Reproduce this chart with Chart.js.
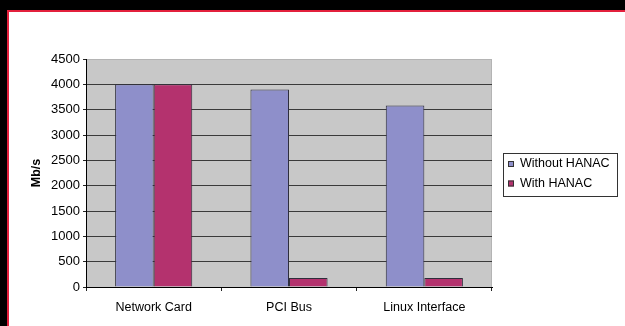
<!DOCTYPE html>
<html>
<head>
<meta charset="utf-8">
<script src="https://cdn.jsdelivr.net/npm/chart.js@4.4.1/dist/chart.umd.min.js"></script>
<style>
  html, body { margin: 0; padding: 0; background: #fff; overflow: hidden; }
  .band { position: absolute; }
  #topBlack { left: 0; top: 0; width: 625px; height: 10px; background: #000; }
  #leftBlack { left: 0; top: 0; width: 7px; height: 326px; background: #000; }
  #topRed { left: 7px; top: 10px; width: 618px; height: 2px; background: #e3203c; }
  #leftRed { left: 7px; top: 10px; width: 2px; height: 316px; background: #e3203c; }
  #myChart { position: absolute; left: 9px; top: 12px; }
</style>
</head>
<body>
<div class="band" id="topBlack"></div>
<div class="band" id="leftBlack"></div>
<div class="band" id="topRed"></div>
<div class="band" id="leftRed"></div>
<canvas id="myChart" width="616" height="314"></canvas>
<script>
const categories = ['Network Card', 'PCI Bus', 'Linux Interface'];
const withoutHanac = [4000, 3900, 3580];
const withHanac = [4000, 180, 180];
const seriesNames = ['Without HANAC', 'With HANAC'];
const yMin = 0, yMax = 4500, yStep = 500;

const FONT = '"Liberation Sans", Arial, sans-serif';

// grey plot area behind the bars
const plotBackground = {
    id: 'plotBackground',
    beforeDraw(chart) {
        const a = chart.chartArea;
        const c = chart.ctx;
        c.save();
        c.fillStyle = '#c8c8c8';
        c.fillRect(a.left, a.top, a.right - a.left, a.bottom - a.top);
        c.strokeStyle = '#b4b4b4';
        c.lineWidth = 1;
        c.beginPath();
        c.moveTo(a.right - 0.5, a.top);
        c.lineTo(a.right - 0.5, a.bottom);
        c.stroke();
        c.restore();
    }
};

// Excel style boxed legend on the right
const boxLegend = {
    id: 'boxLegend',
    afterDraw(chart) {
        const c = chart.ctx;
        const x = 494, y = 141, w = 114, h = 43;
        c.save();
        c.strokeStyle = '#333';
        c.lineWidth = 1;
        c.strokeRect(x + 0.5, y + 0.5, w, h);
        c.font = '12.5px ' + FONT;
        c.textBaseline = 'middle';
        chart.data.datasets.forEach(function (ds, i) {
            const cy = y + 11 + i * 19.5;
            c.fillStyle = ds.backgroundColor;
            c.fillRect(x + 5, cy - 3, 6, 6);
            c.strokeStyle = '#333';
            c.strokeRect(x + 5.5, cy - 2.5, 5, 5);
            c.fillStyle = '#000';
            c.fillText(ds.label, x + 17, cy);
        });
        c.restore();
    }
};

const ctx = document.getElementById('myChart').getContext('2d');

new Chart(ctx, {
    type: 'bar',
    data: {
        labels: categories,
        datasets: [{
            label: seriesNames[0],
            data: withoutHanac,
            backgroundColor: '#8e8fca',
            borderColor: '#2e2e3c',
            borderWidth: 1
        }, {
            label: seriesNames[1],
            data: withHanac,
            backgroundColor: '#b4326e',
            borderColor: '#2e2e3c',
            borderWidth: 1
        }]
    },
    options: {
        responsive: false,
        animation: false,
        layout: {
            padding: { left: 10, right: 133, top: 47, bottom: 2 }
        },
        plugins: {
            legend: { display: false },
            tooltip: { enabled: false }
        },
        datasets: {
            bar: {
                barPercentage: 1,
                categoryPercentage: 0.57
            }
        },
        scales: {
            x: {
                grid: {
                    display: true,
                    drawOnChartArea: false,
                    drawTicks: true,
                    tickLength: 4,
                    color: '#222',
                    offset: true
                },
                border: { color: '#000', width: 1 },
                ticks: {
                    color: '#000',
                    padding: 9,
                    font: { family: FONT, size: 12.5 }
                }
            },
            y: {
                min: yMin,
                max: yMax,
                ticks: {
                    stepSize: yStep,
                    color: '#000',
                    padding: 3,
                    font: { family: FONT, size: 13 },
                    callback: function (v) { return String(v); }
                },
                grid: {
                    color: function (c) {
                        return c.tick && c.tick.value === yMax ? '#b4b4b4' : '#3a3a3a';
                    },
                    tickColor: '#222',
                    tickLength: 3
                },
                border: { color: '#000', width: 1 },
                title: {
                    display: true,
                    text: 'Mb/s',
                    color: '#000',
                    font: { family: FONT, size: 12.5, weight: 'bold' },
                    padding: { top: 10.5, bottom: 3.6 }
                }
            }
        }
    },
    plugins: [plotBackground, boxLegend]
});
</script>
</body>
</html>
